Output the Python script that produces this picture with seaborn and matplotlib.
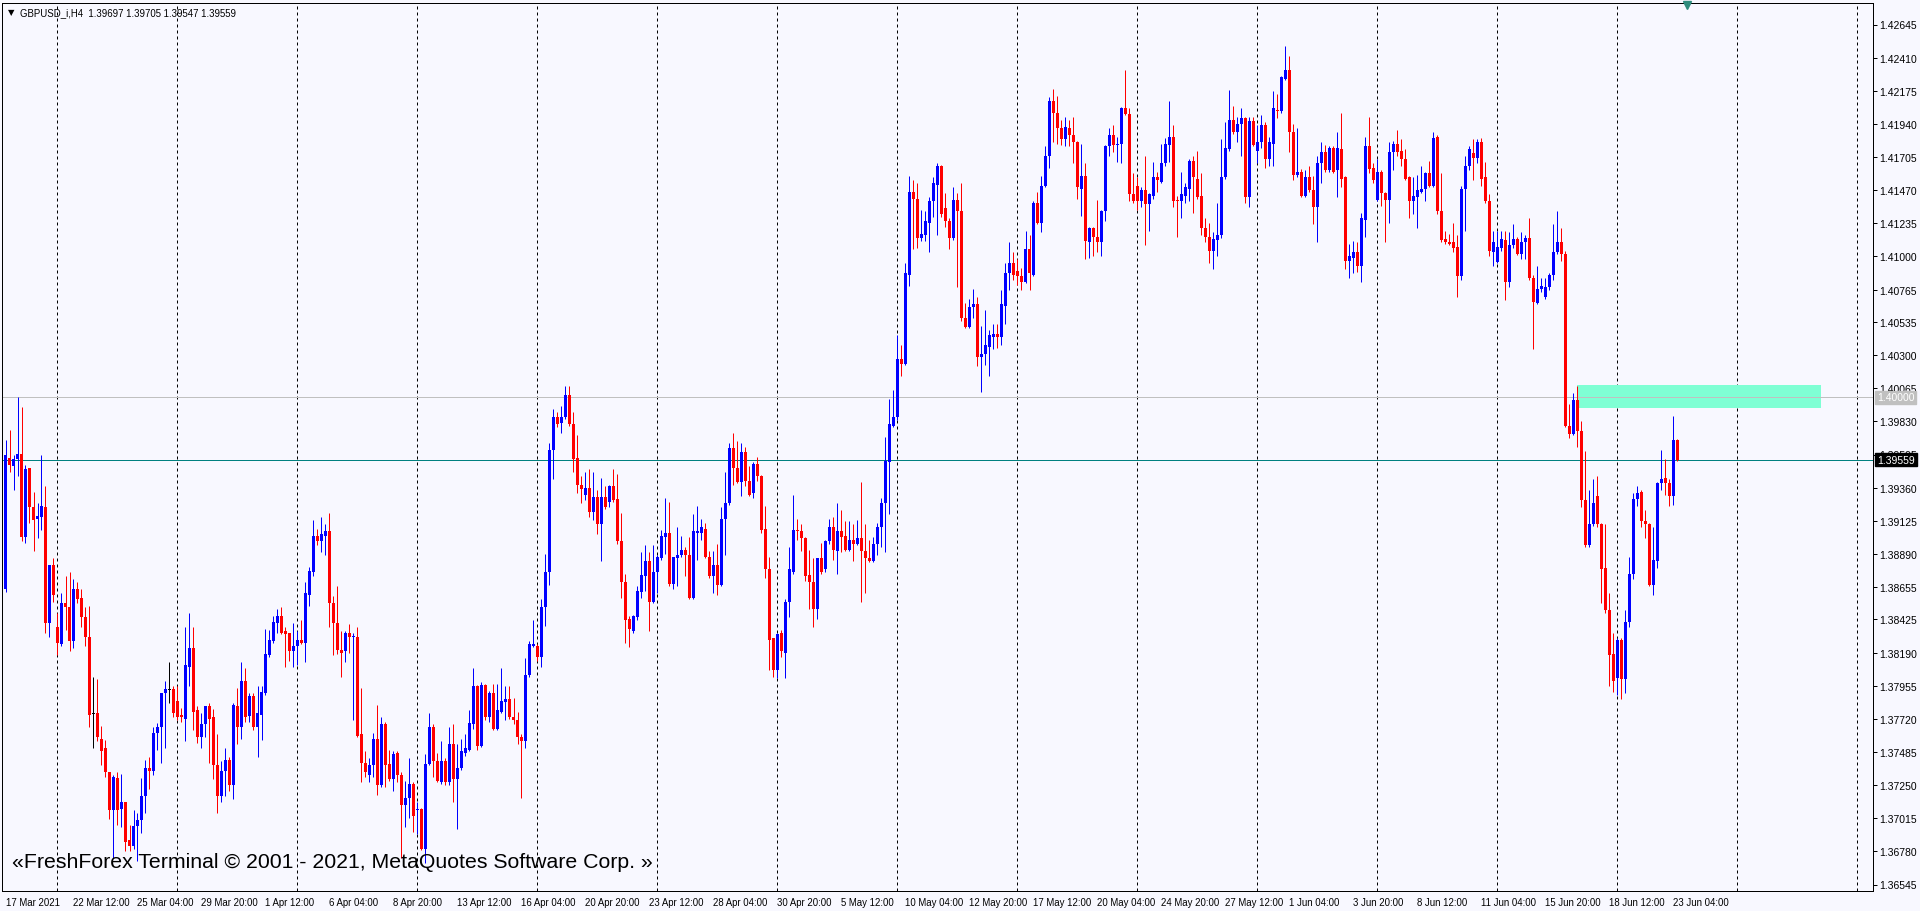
"""
GBPUSD_i H4 candlestick chart, redrawn in the look of a MetaTrader 4 window
"""

import numpy as np
import matplotlib
matplotlib.use("Agg")
import matplotlib.pyplot as plt
import seaborn as sns
from matplotlib.patches import Rectangle

# ---------------------------------------------------------------------------
# Data (one value per H4 bar, oldest first)
# ---------------------------------------------------------------------------
SYMBOL = "GBPUSD_i,H4"

open_ = [
    1.3864, 1.3957, 1.3951, 1.3956, 1.3960, 1.3901, 1.3950, 1.3922, 1.3914, 1.3915,
    1.3922, 1.3840, 1.3881, 1.3837, 1.3825, 1.3854, 1.3851, 1.3827, 1.3864, 1.3858,
    1.3844, 1.3830, 1.3776, 1.3776, 1.3758, 1.3751, 1.3734, 1.3707, 1.3730, 1.3708,
    1.3713, 1.3686, 1.3682, 1.3696, 1.3700, 1.3717, 1.3737, 1.3735, 1.3762, 1.3766,
    1.3790, 1.3793, 1.3793, 1.3785, 1.3775, 1.3772, 1.3809, 1.3822, 1.3778, 1.3759,
    1.3768, 1.3781, 1.3773, 1.3739, 1.3717, 1.3735, 1.3743, 1.3725, 1.3781, 1.3766,
    1.3799, 1.3774, 1.3788, 1.3766, 1.3775, 1.3790, 1.3817, 1.3827, 1.3840, 1.3845,
    1.3834, 1.3833, 1.3820, 1.3824, 1.3828, 1.3826, 1.3860, 1.3876, 1.3902, 1.3898,
    1.3902, 1.3905, 1.3854, 1.3840, 1.3821, 1.3820, 1.3833, 1.3830, 1.3830, 1.3761,
    1.3741, 1.3732, 1.3739, 1.3758, 1.3725, 1.3768, 1.3740, 1.3729, 1.3748, 1.3732,
    1.3711, 1.3716, 1.3726, 1.3707, 1.3708, 1.3680, 1.3740, 1.3766, 1.3742, 1.3727,
    1.3742, 1.3727, 1.3754, 1.3729, 1.3737, 1.3748, 1.3750, 1.3768, 1.3795, 1.3753,
    1.3796, 1.3773, 1.3790, 1.3765, 1.3777, 1.3784, 1.3786, 1.3773, 1.3771, 1.3759,
    1.3756, 1.3803, 1.3824, 1.3824, 1.3816, 1.3851, 1.3876, 1.3963, 1.3986, 1.3982,
    1.3986, 1.4002, 1.3981, 1.3957, 1.3938, 1.3931, 1.3936, 1.3919, 1.3929, 1.3910,
    1.3929, 1.3926, 1.3937, 1.3928, 1.3898, 1.3869, 1.3843, 1.3834, 1.3844, 1.3862,
    1.3873, 1.3884, 1.3855, 1.3876, 1.3886, 1.3901, 1.3904, 1.3868, 1.3886, 1.3888,
    1.3892, 1.3888, 1.3858, 1.3904, 1.3904, 1.3907, 1.3887, 1.3873, 1.3881, 1.3867,
    1.3914, 1.3925, 1.3964, 1.3950, 1.3940, 1.3961, 1.3941, 1.3932, 1.3953, 1.3944,
    1.3907, 1.3878, 1.3829, 1.3807, 1.3833, 1.3819, 1.3855, 1.3876, 1.3906, 1.3905,
    1.3900, 1.3874, 1.3869, 1.3850, 1.3886, 1.3878, 1.3898, 1.3908, 1.3891, 1.3905,
    1.3902, 1.3892, 1.3899, 1.3896, 1.3900, 1.3891, 1.3886, 1.3884, 1.3896, 1.3908,
    1.3925, 1.3954, 1.3980, 1.3986, 1.4027, 1.4024, 1.4087, 1.4146, 1.4141, 1.4113,
    1.4115, 1.4124, 1.4139, 1.4151, 1.4164, 1.4134, 1.4125, 1.4113, 1.4140, 1.4132,
    1.4056, 1.4050, 1.4064, 1.4066, 1.4029, 1.4031, 1.4036, 1.4043, 1.4045, 1.4043,
    1.4065, 1.4088, 1.4095, 1.4090, 1.4086, 1.4082, 1.4105, 1.4087, 1.4138, 1.4124,
    1.4150, 1.4171, 1.4210, 1.4202, 1.4191, 1.4183, 1.4191, 1.4186, 1.4181, 1.4148,
    1.4157, 1.4110, 1.4120, 1.4114, 1.4110, 1.4132, 1.4178, 1.4186, 1.4179, 1.4180,
    1.4205, 1.4201, 1.4144, 1.4150, 1.4139, 1.4147, 1.4137, 1.4143, 1.4156, 1.4153,
    1.4166, 1.4179, 1.4185, 1.4140, 1.4139, 1.4143, 1.4148, 1.4168, 1.4155, 1.4143,
    1.4120, 1.4114, 1.4104, 1.4112, 1.4115, 1.4156, 1.4176, 1.4197, 1.4188, 1.4194,
    1.4198, 1.4142, 1.4196, 1.4175, 1.4181, 1.4193, 1.4169, 1.4180, 1.4204, 1.4203,
    1.4226, 1.4232, 1.4188, 1.4158, 1.4160, 1.4143, 1.4156, 1.4147, 1.4135, 1.4166,
    1.4174, 1.4161, 1.4177, 1.4161, 1.4176, 1.4156, 1.4097, 1.4099, 1.4103, 1.4093,
    1.4126, 1.4178, 1.4163, 1.4140, 1.4160, 1.4145, 1.4140, 1.4174, 1.4180, 1.4175,
    1.4169, 1.4156, 1.4139, 1.4142, 1.4146, 1.4148, 1.4159, 1.4150, 1.4185, 1.4132,
    1.4112, 1.4110, 1.4110, 1.4107, 1.4086, 1.4148, 1.4164, 1.4173, 1.4170, 1.4181,
    1.4156, 1.4139, 1.4103, 1.4096, 1.4106, 1.4112, 1.4082, 1.4108, 1.4112, 1.4102,
    1.4110, 1.4113, 1.4085, 1.4067, 1.4077, 1.4071, 1.4078, 1.4087, 1.4103, 1.4110,
    1.4102, 1.3980, 1.3974, 1.3998, 1.3976, 1.3927, 1.3895, 1.3910, 1.3930, 1.3910,
    1.3879, 1.3849, 1.3818, 1.3801, 1.3828, 1.3800, 1.3841, 1.3875, 1.3928, 1.3933,
    1.3912, 1.3910, 1.3867, 1.3884, 1.3939, 1.3943, 1.3939, 1.3930, 1.39697,
]

high = [
    1.3970, 1.3977, 1.3959, 1.4000, 1.3993, 1.3952, 1.3950, 1.3933, 1.3925, 1.3959,
    1.3937, 1.3881, 1.3886, 1.3847, 1.3861, 1.3873, 1.3876, 1.3871, 1.3869, 1.3864,
    1.3851, 1.3852, 1.3802, 1.3800, 1.3767, 1.3757, 1.3734, 1.3732, 1.3734, 1.3733,
    1.3713, 1.3697, 1.3707, 1.3705, 1.3730, 1.3743, 1.3745, 1.3766, 1.3769, 1.3790,
    1.3799, 1.3812, 1.3795, 1.3795, 1.3780, 1.3837, 1.3847, 1.3837, 1.3781, 1.3776,
    1.3781, 1.3783, 1.3779, 1.3761, 1.3742, 1.3751, 1.3745, 1.3783, 1.3794, 1.3812,
    1.3808, 1.3790, 1.3790, 1.3795, 1.3795, 1.3836, 1.3835, 1.3845, 1.3850, 1.3851,
    1.3837, 1.3833, 1.3840, 1.3834, 1.3842, 1.3869, 1.3880, 1.3913, 1.3907, 1.3915,
    1.3910, 1.3918, 1.3859, 1.3866, 1.3834, 1.3834, 1.3839, 1.3833, 1.3837, 1.3794,
    1.3749, 1.3744, 1.3762, 1.3782, 1.3773, 1.3770, 1.3750, 1.3749, 1.3749, 1.3734,
    1.3728, 1.3744, 1.3727, 1.3713, 1.3709, 1.3747, 1.3776, 1.3768, 1.3748, 1.3756,
    1.3744, 1.3766, 1.3768, 1.3754, 1.3758, 1.3761, 1.3778, 1.3808, 1.3796, 1.3798,
    1.3797, 1.3792, 1.3797, 1.3797, 1.3808, 1.3795, 1.3795, 1.3787, 1.3777, 1.3761,
    1.3815, 1.3827, 1.3842, 1.3825, 1.3857, 1.3889, 1.3968, 1.3992, 1.3990, 1.3994,
    1.4008, 1.4008, 1.3990, 1.3973, 1.3944, 1.3947, 1.3949, 1.3947, 1.3934, 1.3943,
    1.3937, 1.3938, 1.3949, 1.3946, 1.3918, 1.3875, 1.3845, 1.3846, 1.3866, 1.3890,
    1.3895, 1.3890, 1.3895, 1.3888, 1.3906, 1.3929, 1.3926, 1.3887, 1.3908, 1.3902,
    1.3894, 1.3901, 1.3917, 1.3923, 1.3914, 1.3911, 1.3891, 1.3891, 1.3896, 1.3922,
    1.3947, 1.3968, 1.3975, 1.3969, 1.3968, 1.3965, 1.3951, 1.3954, 1.3958, 1.3945,
    1.3923, 1.3887, 1.3829, 1.3833, 1.3835, 1.3857, 1.3894, 1.3931, 1.3914, 1.3910,
    1.3901, 1.3892, 1.3886, 1.3886, 1.3897, 1.3899, 1.3914, 1.3915, 1.3925, 1.3920,
    1.3912, 1.3912, 1.3910, 1.3913, 1.3940, 1.3910, 1.3899, 1.3901, 1.3911, 1.3929,
    1.3972, 1.3999, 1.4005, 1.4044, 1.4037, 1.4095, 1.4157, 1.4154, 1.4152, 1.4133,
    1.4132, 1.4142, 1.4156, 1.4166, 1.4165, 1.4145, 1.4127, 1.4149, 1.4145, 1.4152,
    1.4067, 1.4070, 1.4077, 1.4071, 1.4051, 1.4062, 1.4048, 1.4052, 1.4052, 1.4076,
    1.4095, 1.4110, 1.4103, 1.4098, 1.4092, 1.4118, 1.4115, 1.4139, 1.4146, 1.4157,
    1.4178, 1.4213, 1.4219, 1.4214, 1.4197, 1.4199, 1.4197, 1.4199, 1.4182, 1.4180,
    1.4166, 1.4121, 1.4121, 1.4140, 1.4133, 1.4179, 1.4191, 1.4193, 1.4185, 1.4206,
    1.4232, 1.4205, 1.4159, 1.4156, 1.4149, 1.4171, 1.4145, 1.4167, 1.4160, 1.4180,
    1.4184, 1.4210, 1.4193, 1.4143, 1.4160, 1.4152, 1.4169, 1.4171, 1.4175, 1.4159,
    1.4127, 1.4124, 1.4117, 1.4138, 1.4183, 1.4195, 1.4218, 1.4207, 1.4199, 1.4205,
    1.4199, 1.4199, 1.4199, 1.4193, 1.4200, 1.4195, 1.4185, 1.4217, 1.4215, 1.4228,
    1.4249, 1.4242, 1.4194, 1.4191, 1.4162, 1.4161, 1.4164, 1.4157, 1.4171, 1.4181,
    1.4179, 1.4178, 1.4178, 1.4188, 1.4202, 1.4157, 1.4109, 1.4111, 1.4110, 1.4131,
    1.4185, 1.4199, 1.4166, 1.4169, 1.4161, 1.4146, 1.4181, 1.4182, 1.4190, 1.4183,
    1.4176, 1.4157, 1.4156, 1.4158, 1.4164, 1.4160, 1.4168, 1.4188, 1.4186, 1.4159,
    1.4118, 1.4116, 1.4124, 1.4115, 1.4150, 1.4171, 1.4178, 1.4183, 1.4183, 1.4184,
    1.4167, 1.4144, 1.4118, 1.4118, 1.4118, 1.4118, 1.4117, 1.4123, 1.4114, 1.4117,
    1.4115, 1.4127, 1.4087, 1.4093, 1.4085, 1.4085, 1.4088, 1.4123, 1.4132, 1.4120,
    1.4104, 1.3995, 1.4003, 1.4008, 1.3983, 1.3962, 1.3934, 1.3942, 1.3944, 1.3911,
    1.3910, 1.3861, 1.3833, 1.3829, 1.3829, 1.3849, 1.3887, 1.3932, 1.3937, 1.3934,
    1.3920, 1.3911, 1.3908, 1.3940, 1.3963, 1.3956, 1.3942, 1.3987, 1.39705,
]

low = [
    1.3862, 1.3947, 1.3934, 1.3944, 1.3898, 1.3897, 1.3911, 1.3891, 1.3900, 1.3906,
    1.3833, 1.3830, 1.3855, 1.3817, 1.3824, 1.3835, 1.3820, 1.3822, 1.3854, 1.3837,
    1.3824, 1.3766, 1.3751, 1.3756, 1.3739, 1.3731, 1.3701, 1.3673, 1.3697, 1.3695,
    1.3678, 1.3678, 1.3680, 1.3671, 1.3691, 1.3705, 1.3722, 1.3732, 1.3750, 1.3741,
    1.3751, 1.3783, 1.3773, 1.3771, 1.3770, 1.3756, 1.3795, 1.3764, 1.3755, 1.3751,
    1.3759, 1.3741, 1.3729, 1.3705, 1.3713, 1.3717, 1.3721, 1.3715, 1.3754, 1.3758,
    1.3770, 1.3770, 1.3764, 1.3745, 1.3757, 1.3789, 1.3816, 1.3826, 1.3833, 1.3832,
    1.3809, 1.3813, 1.3809, 1.3810, 1.3825, 1.3812, 1.3852, 1.3873, 1.3895, 1.3890,
    1.3888, 1.3837, 1.3817, 1.3818, 1.3802, 1.3812, 1.3819, 1.3771, 1.3759, 1.3727,
    1.3731, 1.3727, 1.3731, 1.3718, 1.3724, 1.3724, 1.3728, 1.3721, 1.3727, 1.3673,
    1.3695, 1.3702, 1.3692, 1.3690, 1.3679, 1.3670, 1.3739, 1.3731, 1.3727, 1.3726,
    1.3725, 1.3725, 1.3713, 1.3694, 1.3736, 1.3746, 1.3749, 1.3765, 1.3750, 1.3752,
    1.3771, 1.3770, 1.3764, 1.3764, 1.3776, 1.3771, 1.3772, 1.3768, 1.3754, 1.3716,
    1.3751, 1.3802, 1.3823, 1.3813, 1.3809, 1.3838, 1.3867, 1.3942, 1.3979, 1.3975,
    1.3985, 1.3980, 1.3947, 1.3932, 1.3925, 1.3927, 1.3915, 1.3913, 1.3903, 1.3884,
    1.3921, 1.3922, 1.3926, 1.3896, 1.3858, 1.3826, 1.3823, 1.3833, 1.3842, 1.3858,
    1.3863, 1.3834, 1.3854, 1.3861, 1.3885, 1.3889, 1.3866, 1.3864, 1.3866, 1.3887,
    1.3873, 1.3857, 1.3857, 1.3885, 1.3899, 1.3886, 1.3872, 1.3861, 1.3860, 1.3866,
    1.3888, 1.3924, 1.3938, 1.3939, 1.3930, 1.3937, 1.3930, 1.3929, 1.3941, 1.3904,
    1.3872, 1.3807, 1.3802, 1.3801, 1.3816, 1.3801, 1.3844, 1.3875, 1.3899, 1.3891,
    1.3870, 1.3850, 1.3837, 1.3843, 1.3875, 1.3876, 1.3896, 1.3885, 1.3875, 1.3890,
    1.3891, 1.3891, 1.3884, 1.3895, 1.3855, 1.3861, 1.3883, 1.3883, 1.3888, 1.3894,
    1.3890, 1.3917, 1.3979, 1.3984, 1.4015, 1.4023, 1.4079, 1.4105, 1.4106, 1.4111,
    1.4111, 1.4103, 1.4128, 1.4115, 1.4128, 1.4121, 1.4105, 1.4112, 1.4078, 1.4054,
    1.4049, 1.4049, 1.4056, 1.4022, 1.4004, 1.4023, 1.4015, 1.4034, 1.4035, 1.4037,
    1.4052, 1.4076, 1.4083, 1.4080, 1.4076, 1.4081, 1.4076, 1.4086, 1.4123, 1.4117,
    1.4149, 1.4163, 1.4181, 1.4180, 1.4179, 1.4178, 1.4178, 1.4166, 1.4141, 1.4129,
    1.4098, 1.4099, 1.4100, 1.4103, 1.4100, 1.4125, 1.4171, 1.4174, 1.4167, 1.4166,
    1.4200, 1.4139, 1.4138, 1.4133, 1.4135, 1.4108, 1.4118, 1.4141, 1.4146, 1.4152,
    1.4164, 1.4167, 1.4135, 1.4114, 1.4127, 1.4138, 1.4139, 1.4131, 1.4141, 1.4115,
    1.4110, 1.4095, 1.4091, 1.4100, 1.4113, 1.4155, 1.4175, 1.4187, 1.4181, 1.4171,
    1.4138, 1.4135, 1.4178, 1.4166, 1.4177, 1.4163, 1.4164, 1.4164, 1.4198, 1.4202,
    1.4225, 1.4174, 1.4154, 1.4156, 1.4142, 1.4142, 1.4146, 1.4123, 1.4110, 1.4152,
    1.4160, 1.4160, 1.4159, 1.4142, 1.4149, 1.4091, 1.4085, 1.4088, 1.4089, 1.4082,
    1.4114, 1.4159, 1.4152, 1.4139, 1.4136, 1.4110, 1.4124, 1.4161, 1.4171, 1.4164,
    1.4154, 1.4127, 1.4130, 1.4120, 1.4145, 1.4139, 1.4149, 1.4149, 1.4130, 1.4110,
    1.4109, 1.4108, 1.4103, 1.4071, 1.4083, 1.4118, 1.4161, 1.4154, 1.4166, 1.4150,
    1.4138, 1.4100, 1.4093, 1.4095, 1.4104, 1.4069, 1.4078, 1.4106, 1.4101, 1.4098,
    1.4098, 1.4083, 1.4034, 1.4066, 1.4075, 1.4070, 1.4076, 1.4083, 1.4102, 1.4097,
    1.3979, 1.3971, 1.3973, 1.3965, 1.3922, 1.3894, 1.3894, 1.3909, 1.3908, 1.3854,
    1.3847, 1.3795, 1.3791, 1.3789, 1.3786, 1.3790, 1.3837, 1.3871, 1.3923, 1.3908,
    1.3900, 1.3866, 1.3860, 1.3879, 1.3934, 1.3931, 1.3923, 1.3924, 1.39547,
]

close = [
    1.3959, 1.3952, 1.3956, 1.3960, 1.3901, 1.3949, 1.3922, 1.3913, 1.3916, 1.3923,
    1.3840, 1.3881, 1.3860, 1.3826, 1.3854, 1.3851, 1.3827, 1.3864, 1.3857, 1.3844,
    1.3830, 1.3775, 1.3776, 1.3759, 1.3749, 1.3734, 1.3707, 1.3731, 1.3707, 1.3713,
    1.3685, 1.3682, 1.3696, 1.3700, 1.3717, 1.3737, 1.3735, 1.3762, 1.3766, 1.3790,
    1.3793, 1.3793, 1.3776, 1.3773, 1.3773, 1.3810, 1.3822, 1.3777, 1.3759, 1.3768,
    1.3781, 1.3772, 1.3739, 1.3717, 1.3735, 1.3743, 1.3725, 1.3782, 1.3766, 1.3799,
    1.3773, 1.3788, 1.3766, 1.3776, 1.3791, 1.3818, 1.3828, 1.3841, 1.3845, 1.3833,
    1.3832, 1.3820, 1.3824, 1.3828, 1.3826, 1.3861, 1.3877, 1.3902, 1.3898, 1.3903,
    1.3905, 1.3854, 1.3840, 1.3821, 1.3819, 1.3833, 1.3830, 1.3831, 1.3760, 1.3741,
    1.3734, 1.3739, 1.3758, 1.3725, 1.3768, 1.3739, 1.3729, 1.3747, 1.3732, 1.3711,
    1.3716, 1.3726, 1.3703, 1.3708, 1.3680, 1.3740, 1.3766, 1.3742, 1.3728, 1.3742,
    1.3727, 1.3754, 1.3729, 1.3737, 1.3749, 1.3751, 1.3769, 1.3795, 1.3753, 1.3796,
    1.3773, 1.3790, 1.3765, 1.3778, 1.3785, 1.3786, 1.3773, 1.3771, 1.3759, 1.3756,
    1.3803, 1.3825, 1.3825, 1.3816, 1.3851, 1.3876, 1.3963, 1.3986, 1.3981, 1.3986,
    1.4002, 1.3981, 1.3956, 1.3938, 1.3935, 1.3936, 1.3919, 1.3929, 1.3910, 1.3929,
    1.3922, 1.3937, 1.3927, 1.3898, 1.3869, 1.3842, 1.3836, 1.3845, 1.3863, 1.3874,
    1.3884, 1.3855, 1.3876, 1.3887, 1.3902, 1.3904, 1.3868, 1.3887, 1.3888, 1.3892,
    1.3888, 1.3858, 1.3905, 1.3905, 1.3908, 1.3887, 1.3873, 1.3881, 1.3867, 1.3914,
    1.3925, 1.3964, 1.3950, 1.3940, 1.3961, 1.3941, 1.3931, 1.3953, 1.3944, 1.3906,
    1.3878, 1.3828, 1.3807, 1.3832, 1.3820, 1.3855, 1.3878, 1.3906, 1.3905, 1.3900,
    1.3873, 1.3869, 1.3850, 1.3886, 1.3876, 1.3898, 1.3908, 1.3892, 1.3905, 1.3901,
    1.3892, 1.3899, 1.3896, 1.3900, 1.3891, 1.3886, 1.3884, 1.3896, 1.3908, 1.3925,
    1.3955, 1.3981, 1.3986, 1.4027, 1.4024, 1.4088, 1.4146, 1.4141, 1.4113, 1.4116,
    1.4125, 1.4139, 1.4152, 1.4164, 1.4130, 1.4125, 1.4113, 1.4140, 1.4132, 1.4056,
    1.4050, 1.4064, 1.4066, 1.4029, 1.4031, 1.4037, 1.4044, 1.4045, 1.4043, 1.4066,
    1.4088, 1.4095, 1.4087, 1.4086, 1.4082, 1.4105, 1.4088, 1.4138, 1.4124, 1.4150,
    1.4171, 1.4210, 1.4202, 1.4191, 1.4183, 1.4192, 1.4186, 1.4181, 1.4149, 1.4157,
    1.4111, 1.4120, 1.4114, 1.4110, 1.4132, 1.4178, 1.4186, 1.4179, 1.4180, 1.4205,
    1.4201, 1.4144, 1.4139, 1.4139, 1.4147, 1.4137, 1.4144, 1.4156, 1.4154, 1.4166,
    1.4180, 1.4185, 1.4139, 1.4139, 1.4144, 1.4149, 1.4168, 1.4156, 1.4142, 1.4120,
    1.4114, 1.4104, 1.4112, 1.4115, 1.4156, 1.4177, 1.4197, 1.4188, 1.4194, 1.4198,
    1.4142, 1.4196, 1.4179, 1.4181, 1.4193, 1.4169, 1.4181, 1.4205, 1.4203, 1.4227,
    1.4232, 1.4188, 1.4158, 1.4160, 1.4143, 1.4156, 1.4147, 1.4135, 1.4166, 1.4174,
    1.4161, 1.4177, 1.4160, 1.4177, 1.4155, 1.4097, 1.4100, 1.4103, 1.4093, 1.4127,
    1.4178, 1.4162, 1.4154, 1.4160, 1.4145, 1.4140, 1.4174, 1.4180, 1.4174, 1.4169,
    1.4155, 1.4139, 1.4143, 1.4147, 1.4148, 1.4159, 1.4150, 1.4184, 1.4132, 1.4112,
    1.4110, 1.4109, 1.4106, 1.4086, 1.4148, 1.4164, 1.4176, 1.4170, 1.4181, 1.4155,
    1.4139, 1.4104, 1.4110, 1.4107, 1.4112, 1.4082, 1.4108, 1.4112, 1.4102, 1.4110,
    1.4113, 1.4085, 1.4068, 1.4077, 1.4079, 1.4078, 1.4087, 1.4103, 1.4110, 1.4102,
    1.3980, 1.3974, 1.3998, 1.3976, 1.3927, 1.3895, 1.3910, 1.3925, 1.3910, 1.3878,
    1.3849, 1.3817, 1.3799, 1.3828, 1.3800, 1.3841, 1.3875, 1.3928, 1.3932, 1.3912,
    1.3910, 1.3867, 1.3885, 1.3939, 1.3942, 1.3939, 1.3930, 1.3970, 1.39559,
]

# Time axis labels and the bar each one belongs to
time_labels = [
    "17 Mar 2021", "22 Mar 12:00", "25 Mar 04:00", "29 Mar 20:00", "1 Apr 12:00",
    "6 Apr 04:00", "8 Apr 20:00", "13 Apr 12:00", "16 Apr 04:00", "20 Apr 20:00",
    "23 Apr 12:00", "28 Apr 04:00", "30 Apr 20:00", "5 May 12:00", "10 May 04:00",
    "12 May 20:00", "17 May 12:00", "20 May 04:00", "24 May 20:00", "27 May 12:00",
    "1 Jun 04:00", "3 Jun 20:00", "8 Jun 12:00", "11 Jun 04:00", "15 Jun 20:00",
    "18 Jun 12:00", "23 Jun 04:00",
]
label_bars = [0] + list(range(17, 418, 16))

# Price scale labels on the right
price_ticks = [
    1.42645, 1.42410, 1.42175, 1.41940, 1.41705, 1.41470, 1.41235, 1.41000, 1.40765,
    1.40535, 1.40300, 1.40065, 1.39830, 1.39595, 1.39360, 1.39125, 1.38890, 1.38655,
    1.38425, 1.38190, 1.37955, 1.37720, 1.37485, 1.37250, 1.37015, 1.36780, 1.36545,
]

# Objects drawn on the chart
round_level = 1.40000
zone_high, zone_low = 1.40087, 1.39925
zone_first_bar, zone_last_bar = 393.0, 454.0

# ---------------------------------------------------------------------------
# Window geometry (pixels of the 1920x912 screenshot) and colours
# ---------------------------------------------------------------------------
FIG_W, FIG_H, DPI = 1920, 912, 100
PLOT_L, PLOT_R, PLOT_T, PLOT_B = 1.5, 1872.5, 3.5, 891.5
BAR_X0, BAR_STEP = 5.5, 4.0
TICK_TOP_Y, TICK_BOTTOM_Y = 25.5, 885.5
GRID_FIRST_BAR, GRID_EVERY = 13, 30

BG = "#F8F8FF"
BULL, BEAR, DOJI = "#0000FF", "#FF0000", "#000000"
BID_COLOR = "#008080"
LEVEL_COLOR = "#C0C0C0"
ZONE_COLOR = "#7FFFD4"
PX = 0.72  # one screen pixel in points at 100 dpi
SMALL = 6.9  # terminal UI font size


def price_at(y_px):
    """Price shown at a pixel row of the screenshot."""
    per_px = (price_ticks[0] - price_ticks[-1]) / (TICK_BOTTOM_Y - TICK_TOP_Y)
    return price_ticks[0] - (y_px - TICK_TOP_Y) * per_px


def px_to_axes(x_px, y_px):
    """Screenshot pixel -> axes fraction."""
    return ((x_px - PLOT_L) / (PLOT_R - PLOT_L),
            (PLOT_B - y_px) / (PLOT_B - PLOT_T))


def draw_candles(ax):
    o, h, l, c = (np.asarray(v, dtype=float) for v in (open_, high, low, close))
    assert len(o) == len(h) == len(l) == len(c)
    h = np.maximum(h, np.maximum(o, c))
    l = np.minimum(l, np.minimum(o, c))
    x = np.arange(len(c))

    colors = np.where(c > o, BULL, np.where(c < o, BEAR, DOJI))
    one_px = price_at(1) - price_at(2)

    # wicks
    ax.vlines(x, l, h, colors=colors, linewidth=PX, zorder=3)
    # bodies (at least one pixel tall)
    body = np.abs(c - o)
    bottom = np.minimum(o, c)
    bottom = np.where(body < one_px, (o + c) / 2 - one_px / 2, bottom)
    body = np.maximum(body, one_px)
    ax.bar(x, body, bottom=bottom, width=0.75, color=colors,
           linewidth=0, zorder=4)
    return c[-1]


def main():
    sns.set_theme(style="white")
    plt.rcParams["font.family"] = ["Liberation Sans", "DejaVu Sans"]

    fig = plt.figure(figsize=(FIG_W / DPI, FIG_H / DPI), dpi=DPI, facecolor=BG)
    ax = fig.add_axes([PLOT_L / FIG_W, 1 - PLOT_B / FIG_H,
                       (PLOT_R - PLOT_L) / FIG_W, (PLOT_B - PLOT_T) / FIG_H])
    ax.set_facecolor(BG)

    ax.set_xlim((PLOT_L - BAR_X0) / BAR_STEP, (PLOT_R - BAR_X0) / BAR_STEP)
    ax.set_ylim(price_at(PLOT_B), price_at(PLOT_T))

    # vertical dotted grid
    for b in range(GRID_FIRST_BAR, int(ax.get_xlim()[1]), GRID_EVERY):
        ax.axvline(b, color="black", linewidth=PX, linestyle=(0, (3, 3)), zorder=1)

    # supply/demand zone and the round-number level
    ax.add_patch(Rectangle((zone_first_bar, zone_low), zone_last_bar - zone_first_bar,
                           zone_high - zone_low, facecolor=ZONE_COLOR,
                           edgecolor="none", zorder=1.5))
    ax.axhline(round_level, color=LEVEL_COLOR, linewidth=PX, zorder=2)

    last_close = draw_candles(ax)
    ax.axhline(last_close, color=BID_COLOR, linewidth=PX, zorder=2.5)

    # frame
    for s in ax.spines.values():
        s.set_color("black")
        s.set_linewidth(PX)

    # price scale
    ax.yaxis.tick_right()
    ax.set_yticks(price_ticks)
    ax.set_yticklabels([f"{p:.5f}" for p in price_ticks])
    ax.tick_params(axis="y", length=3, width=PX, color="black", pad=2,
                   labelsize=7.5, labelcolor="black")

    # time scale
    ax.set_xticks(label_bars)
    ax.set_xticklabels(time_labels, ha="left")
    ax.tick_params(axis="x", length=3, width=PX, color="black", pad=2,
                   labelsize=SMALL, labelcolor="black")

    # price tags of the two horizontal lines
    tag_x = px_to_axes(1877, 0)[0]
    ytrans = ax.get_yaxis_transform()
    ax.text(tag_x, round_level, f"{round_level:.5f}", transform=ytrans,
            ha="left", va="center", fontsize=7.5, color="white", zorder=10,
            clip_on=False,
            bbox=dict(boxstyle="square,pad=0.18", fc=LEVEL_COLOR, ec=LEVEL_COLOR))
    ax.text(tag_x, last_close, f"{last_close:.5f}", transform=ytrans,
            ha="left", va="center", fontsize=7.5, color="white", zorder=10,
            clip_on=False,
            bbox=dict(boxstyle="square,pad=0.18", fc="black", ec="black"))

    # chart shift marker
    mx, my = px_to_axes(1687, 6)
    ax.plot([mx], [my], marker="v", markersize=6, color="#2E8B7D",
            transform=ax.transAxes, clip_on=False, zorder=10)

    # header line with symbol and last bar OHLC
    fig.text(8 / FIG_W, 1 - 13 / FIG_H, "\u25bc", fontsize=6, color="black",
             ha="left", va="center", family=["DejaVu Sans"])
    header = (f"{SYMBOL}  {open_[-1]:.5f} {high[-1]:.5f} "
              f"{low[-1]:.5f} {close[-1]:.5f}")
    fig.text(20 / FIG_W, 1 - 13 / FIG_H, header, fontsize=SMALL, color="black",
             ha="left", va="center")

    # terminal watermark
    fig.text(12 / FIG_W, 1 - 863 / FIG_H,
             "\u00abFreshForex Terminal \u00a9 2001 - 2021, MetaQuotes Software Corp. \u00bb",
             fontsize=15.3, color="black", ha="left", va="center")

    fig.savefig("out.png", dpi=DPI, facecolor=BG)


if __name__ == "__main__":
    main()
